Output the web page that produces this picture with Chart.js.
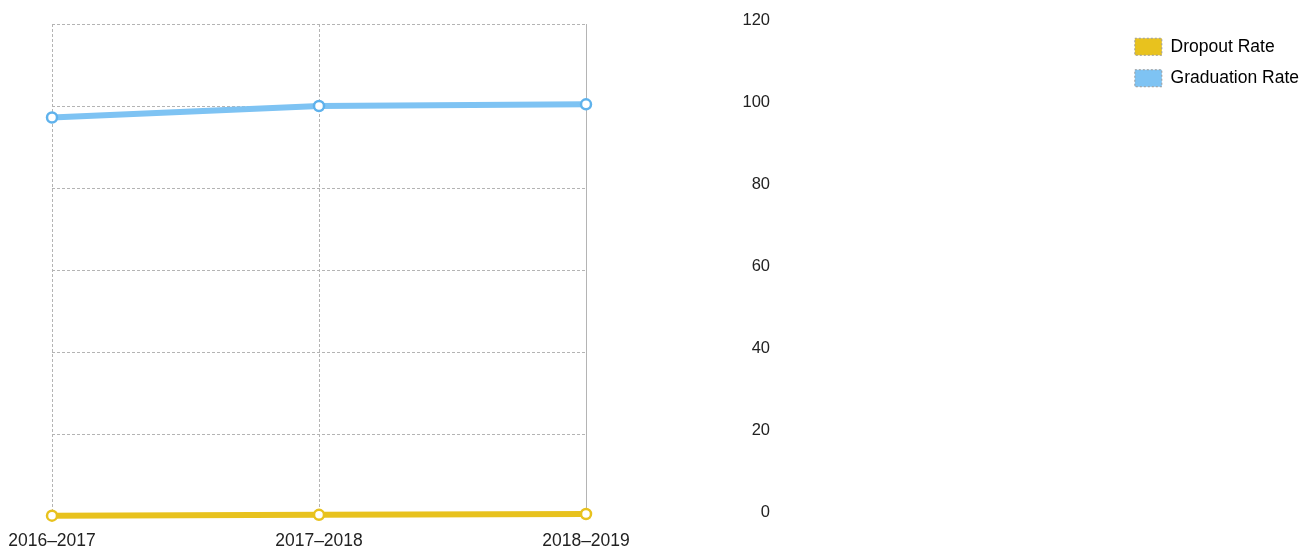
<!DOCTYPE html>
<html>
<head>
<meta charset="utf-8">
<script src="https://cdn.jsdelivr.net/npm/chart.js@4"></script>
<style>
  html, body { margin: 0; padding: 0; background: #fff; }
  #wrap { width: 1311px; height: 548px; }
</style>
</head>
<body>
<div id="wrap"><canvas id="chart"></canvas></div>
<script>
// Dados do gráfico
const years = ['2016–2017', '2017–2018', '2018–2019'];
const dropoutRate = [0.1, 0.3, 0.5];
const graduationRate = [97.2, 100.0, 100.4];
const yTicks = [0, 20, 40, 60, 80, 100, 120];

const yellow = '#e8c21e';
const blue = '#7ec3f3';
const gridColor = '#b4b4b4';
const padRight = 2;

const ctx = document.getElementById('chart').getContext('2d');
new Chart(ctx, {
    type: 'line',
    data: {
        labels: years,
        datasets: [{
            label: 'Dropout Rate',
            data: dropoutRate,
            borderColor: yellow,
            backgroundColor: yellow,
            borderWidth: 6,
            pointRadius: 5,
            pointBorderWidth: 2.5,
            pointBackgroundColor: '#fff',
            pointBorderColor: yellow,
            clip: false
        }, {
            label: 'Graduation Rate',
            data: graduationRate,
            borderColor: blue,
            backgroundColor: blue,
            borderWidth: 6,
            pointRadius: 5,
            pointBorderWidth: 2.5,
            pointBackgroundColor: '#fff',
            pointBorderColor: '#5fb2ec',
            clip: false
        }]
    },
    options: {
        responsive: true,
        maintainAspectRatio: false,
        animation: false,
        layout: {
            padding: { left: 52, top: 24, right: padRight, bottom: -18 }
        },
        scales: {
            x: {
                grid: { color: gridColor, drawTicks: false },
                border: { color: gridColor, dash: [3, 2] },
                ticks: {
                    color: '#222',
                    padding: 8,
                    maxRotation: 0,
                    // linha alta para descer o texto sem aumentar o recuo lateral
                    font: { family: 'Liberation Sans, Arial', size: 17.5, lineHeight: 1.94 }
                }
            },
            y: {
                position: 'right',
                min: 0,
                max: 120,
                afterBuildTicks: function(axis) {
                    axis.ticks = yTicks.map(v => ({ value: v }));
                },
                afterFit: function(axis) {
                    axis.width = 184;
                },
                grid: { color: gridColor, drawTicks: false },
                border: { color: gridColor, dash: [3, 2] },
                ticks: {
                    color: '#222',
                    padding: 0,
                    crossAlign: 'far',
                    labelOffset: -4,
                    font: { family: 'Liberation Sans, Arial', size: 16.5 }
                }
            },
            // eixo vazio só para abrir espaço entre os rótulos e a legenda
            spacer: {
                type: 'linear',
                position: 'right',
                weight: 1,
                afterFit: function(axis) {
                    const chart = axis.chart;
                    const lw = chart.legend && chart.legend.width ? chart.legend.width : 175;
                    axis.width = Math.max(chart.width - padRight - lw - 586 - 184, 0);
                },
                grid: { display: false },
                border: { display: false },
                ticks: { display: false }
            }
        },
        plugins: {
            legend: {
                position: 'right',
                align: 'start',
                labels: {
                    boxWidth: 27,
                    boxHeight: 17,
                    padding: 14,
                    color: '#222',
                    font: { family: 'Liberation Sans, Arial', size: 17.5 },
                    generateLabels: function(chart) {
                        return chart.data.datasets.map((ds, i) => ({
                            text: ds.label,
                            fillStyle: ds.borderColor,
                            strokeStyle: '#9a9a9a',
                            lineWidth: 1,
                            lineDash: [2, 2],
                            hidden: !chart.isDatasetVisible(i),
                            datasetIndex: i
                        }));
                    }
                }
            },
            tooltip: { enabled: false }
        }
    }
});
</script>
</body>
</html>
